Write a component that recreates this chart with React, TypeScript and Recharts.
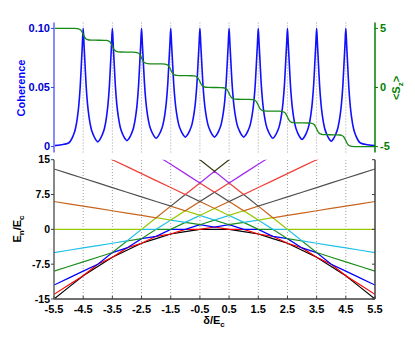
import React from "react";
import { LineChart, Line, XAxis, YAxis, ReferenceLine } from "recharts";

const W = 415;
const H = 337;
const FONT = "'Liberation Sans', Arial, Helvetica, sans-serif";

// x axis
const deltaTicks = [-5.5, -4.5, -3.5, -2.5, -1.5, -0.5, 0.5, 1.5, 2.5, 3.5, 4.5, 5.5];
const gridTicks = [-4.5, -3.5, -2.5, -1.5, -0.5, 0.5, 1.5, 2.5, 3.5, 4.5];

// ---- top panel: coherence (left axis) and <Sz> (right axis)
const peakCenters = [-4.5, -3.5, -2.5, -1.5, -0.5, 0.5, 1.5, 2.5, 3.5, 4.5];
const peakHeights = [0.1, 0.1, 0.1, 0.1, 0.1, 0.1, 0.1, 0.1, 0.1, 0.1];
// valley minima at delta = -5, -4, ..., 5
const valleyLevels = [0.003, 0.004, 0.005, 0.007, 0.008, 0.008, 0.008, 0.007, 0.006, 0.0045, 0.003];
const edgeCoherence = [0.0008, 0.0015]; // at |delta| = 5.5, 5.25
// peak profile (offset from centre, fraction above valley)
const peakOffsets = [0.03, 0.06, 0.1, 0.15, 0.2, 0.27, 0.35, 0.43];
const peakShape = [0.85, 0.7, 0.5, 0.33, 0.22, 0.12, 0.06, 0.02];

// <Sz> plateaus from left to right
const szPlateaus = [5, 4, 3, 2, 1, 0, -1, -2, -3, -4, -5];
const szStepOffsets = [0.04, 0.08, 0.13, 0.2, 0.3];
const szStepShape = [0.2, 0.35, 0.43, 0.48, 0.495];

// ---- bottom panel: energy levels E_n/E_c at delta/E_c = -5.5 : 0.5 : 5.5
const levelDelta = [-5.5, -5, -4.5, -4, -3.5, -3, -2.5, -2, -1.5, -1, -0.5, 0, 0.5, 1, 1.5, 2, 2.5, 3, 3.5, 4, 4.5, 5, 5.5];
const level0 = [-15, -12.5, -10, -8, -6, -4.5, -3, -2, -1, -0.5, 0, 0, 0, -0.5, -1, -2, -3, -4.5, -6, -8, -10, -12.5, -15];
const level1 = [-14, -12, -10, -7.5, -6, -4, -3, -1.5, -1, 0, 0, 0.5, 0, 0, -1, -1.5, -3, -4, -6, -7.5, -10, -12, -14];
const level2 = [-12, -10.5, -9, -7.5, -5, -4, -2, -1.5, 0, 0, 1, 0.5, 1, 0, 0, -1.5, -2, -4, -5, -7.5, -9, -10.5, -12];
const level3 = [-9, -8, -7, -6, -5, -2.5, -2, 0, 0, 1.5, 1, 2, 1, 1.5, 0, 0, -2, -2.5, -5, -6, -7, -8, -9];
const level4 = [-5, -4.5, -4, -3.5, -3, -2.5, 0, 0, 2, 1.5, 3, 2, 3, 1.5, 2, 0, 0, -2.5, -3, -3.5, -4, -4.5, -5];
const level5 = [0, 0, 0, 0, 0, 0, 0, 2.5, 2, 4, 3, 4.5, 3, 4, 2, 2.5, 0, 0, 0, 0, 0, 0, 0];
const level6 = [6, 5.5, 5, 4.5, 4, 3.5, 3, 2.5, 5, 4, 6, 4.5, 6, 4, 5, 2.5, 3, 3.5, 4, 4.5, 5, 5.5, 6];
const level7 = [13, 12, 11, 10, 9, 8, 7, 6, 5, 7.5, 6, 8, 6, 7.5, 5, 6, 7, 8, 9, 10, 11, 12, 13];
const level8 = [21, 19.5, 18, 16.5, 15, 13.5, 12, 10.5, 9, 7.5, 10, 8, 10, 7.5, 9, 10.5, 12, 13.5, 15, 16.5, 18, 19.5, 21];
const level9 = [30, 28, 26, 24, 22, 20, 18, 16, 14, 12, 10, 12.5, 10, 12, 14, 16, 18, 20, 22, 24, 26, 28, 30];
const level10 = [40, 37.5, 35, 32.5, 30, 27.5, 25, 22.5, 20, 17.5, 15, 12.5, 15, 17.5, 20, 22.5, 25, 27.5, 30, 32.5, 35, 37.5, 40];
const levels = [level0, level1, level2, level3, level4, level5, level6, level7, level8, level9, level10];
const levelColors = ["#000000", "#ff0000", "#0000ff", "#1a8c1a", "#1ec0e8", "#99c800", "#c8641e", "#505050", "#ee4038", "#a428f0", "#3a3a10"];
const energyTicks = [-15, -7.5, 0, 7.5, 15];

// ---- build tables
const cohData: { d: number; c: number }[] = [];
cohData.push({ d: -5.5, c: edgeCoherence[0] }, { d: -5.25, c: edgeCoherence[1] });
peakCenters.forEach((c, i) => {
  const vl = valleyLevels[i];
  const vr = valleyLevels[i + 1];
  const h = peakHeights[i];
  if (i === 0) cohData.push({ d: c - 0.5, c: vl });
  for (let j = peakOffsets.length - 1; j >= 0; j--) cohData.push({ d: c - peakOffsets[j], c: vl + (h - vl) * peakShape[j] });
  cohData.push({ d: c, c: h });
  for (let j = 0; j < peakOffsets.length; j++) cohData.push({ d: c + peakOffsets[j], c: vr + (h - vr) * peakShape[j] });
  cohData.push({ d: c + 0.5, c: vr });
});
cohData.push({ d: 5.25, c: edgeCoherence[1] }, { d: 5.5, c: edgeCoherence[0] });

const szData: { d: number; s: number }[] = [];
szData.push({ d: -5.5, s: szPlateaus[0] });
peakCenters.forEach((c, i) => {
  const up = szPlateaus[i];
  const lo = szPlateaus[i + 1];
  const mid = (up + lo) / 2;
  const step = up - lo;
  if (i === 0) szData.push({ d: c - 0.5, s: up });
  for (let j = szStepOffsets.length - 1; j >= 0; j--) szData.push({ d: c - szStepOffsets[j], s: mid + step * szStepShape[j] });
  szData.push({ d: c, s: mid });
  for (let j = 0; j < szStepOffsets.length; j++) szData.push({ d: c + szStepOffsets[j], s: mid - step * szStepShape[j] });
  szData.push({ d: c + 0.5, s: lo });
});
szData.push({ d: 5.5, s: szPlateaus[szPlateaus.length - 1] });

const levelData = levelDelta.map((d, i) => {
  const row: Record<string, number> = { d };
  levels.forEach((lv, k) => {
    row["l" + k] = lv[i];
  });
  return row;
});

const tickFont = { fontFamily: FONT, fontSize: 11, fontWeight: 700 };
const noTick = () => <g />;
const cohFmt = (v: number) => (v === 0 ? "0" : v.toFixed(2));

export default function App() {
  return (
    <div style={{ position: "absolute", left: 0, top: 0, width: W, height: H, background: "#fff" }}>
      {/* top panel */}
      <div style={{ position: "absolute", left: 0, top: 0 }}>
        <LineChart width={W} height={H} margin={{ top: 22.5, right: 0, bottom: 184.5, left: 0 }}>
          <XAxis
            xAxisId="b"
            dataKey="d"
            type="number"
            domain={[-5.5, 5.5]}
            ticks={deltaTicks}
            allowDataOverflow
            height={0}
            axisLine={{ stroke: "#808080", strokeWidth: 1.5 }}
            tickLine={{ stroke: "#606060" }}
            tickSize={-3}
            tick={noTick}
          />
          <XAxis
            xAxisId="t"
            orientation="top"
            dataKey="d"
            type="number"
            domain={[-5.5, 5.5]}
            ticks={gridTicks}
            allowDataOverflow
            height={0}
            axisLine={{ stroke: "#000", strokeWidth: 1.5 }}
            tickLine={{ stroke: "#808080", strokeWidth: 1.5 }}
            tickSize={-3}
            tick={noTick}
          />
          <YAxis
            yAxisId="coh"
            orientation="left"
            domain={[-0.005, 0.105]}
            ticks={[0, 0.05, 0.1]}
            allowDataOverflow
            width={54}
            tickFormatter={cohFmt}
            axisLine={{ stroke: "#8a8aff", strokeWidth: 2 }}
            tickLine={{ stroke: "#4040ff" }}
            tickSize={3}
            tickMargin={1}
            tick={{ ...tickFont, fill: "#0000d0" }}
          />
          <YAxis
            yAxisId="sz"
            orientation="right"
            domain={[-5.5, 5.5]}
            ticks={[-5, 0, 5]}
            allowDataOverflow
            width={40}
            axisLine={{ stroke: "#008000", strokeWidth: 1.5 }}
            tickLine={{ stroke: "#008000" }}
            tickSize={3}
            tickMargin={2}
            tick={{ ...tickFont, fill: "#008000" }}
          />
          {gridTicks.map((t) => (
            <ReferenceLine key={t} x={t} xAxisId="b" yAxisId="coh" stroke="#a0a0a0" strokeDasharray="1 2" />
          ))}
          <Line
            data={cohData}
            xAxisId="b"
            yAxisId="coh"
            dataKey="c"
            type="monotone"
            stroke="#1010ff"
            strokeWidth={1.6}
            dot={false}
            isAnimationActive={false}
          />
          <Line
            data={szData}
            xAxisId="b"
            yAxisId="sz"
            dataKey="s"
            type="monotone"
            stroke="#178a17"
            strokeWidth={1.3}
            dot={false}
            isAnimationActive={false}
          />
        </LineChart>
      </div>

      {/* bottom panel */}
      <div style={{ position: "absolute", left: 0, top: 0 }}>
        <LineChart width={W} height={H} data={levelData} margin={{ top: 159.7, right: 0, bottom: 8, left: 0 }}>
          <XAxis
            xAxisId="b"
            dataKey="d"
            type="number"
            domain={[-5.5, 5.5]}
            ticks={deltaTicks}
            allowDataOverflow
            height={30}
            axisLine={{ stroke: "#404040", strokeWidth: 1.5 }}
            tickLine={{ stroke: "#404040" }}
            tickSize={-3}
            tickMargin={9}
            tick={{ ...tickFont, fill: "#000" }}
          />
          <XAxis
            xAxisId="t"
            orientation="top"
            dataKey="d"
            type="number"
            domain={[-5.5, 5.5]}
            ticks={gridTicks}
            allowDataOverflow
            height={0}
            axisLine={{ stroke: "#303030", strokeWidth: 2 }}
            tickLine={false}
            tick={noTick}
          />
          <YAxis
            yAxisId="e"
            orientation="left"
            domain={[-15, 15]}
            ticks={energyTicks}
            allowDataOverflow
            width={54}
            axisLine={{ stroke: "#606060", strokeWidth: 1.5 }}
            tickLine={{ stroke: "#404040" }}
            tickSize={3}
            tickMargin={1}
            tick={{ ...tickFont, fontSize: 10.5, fill: "#000" }}
          />
          <YAxis
            yAxisId="e2"
            orientation="right"
            domain={[-15, 15]}
            ticks={energyTicks}
            allowDataOverflow
            width={40}
            axisLine={{ stroke: "#404040", strokeWidth: 1.5 }}
            tickLine={{ stroke: "#404040" }}
            tickSize={-3}
            tick={noTick}
          />
          {gridTicks.map((t) => (
            <ReferenceLine key={t} x={t} xAxisId="b" yAxisId="e" stroke="#a0a0a0" strokeDasharray="1 2" />
          ))}
          {levels.map((_, k) => (
            <Line
              key={k}
              xAxisId="b"
              yAxisId="e"
              dataKey={"l" + k}
              type="linear"
              stroke={levelColors[k]}
              strokeWidth={1.2}
              dot={false}
              isAnimationActive={false}
            />
          ))}
        </LineChart>
      </div>

      {/* axis titles */}
      <svg width={W} height={H} style={{ position: "absolute", left: 0, top: 0, pointerEvents: "none" }}>
        <text
          x={25}
          y={88}
          transform="rotate(-90 25 88)"
          textAnchor="middle"
          fill="#0000ff"
          style={{ fontFamily: FONT, fontSize: 11, fontWeight: 700 }}
        >
          Coherence
        </text>
        <text
          x={400}
          y={88}
          transform="rotate(-90 400 88)"
          textAnchor="middle"
          fill="#008000"
          style={{ fontFamily: FONT, fontSize: 11, fontWeight: 700 }}
        >
          {"<S"}
          <tspan dy={3} fontSize={8}>z</tspan>
          <tspan dy={-3}>{">"}</tspan>
        </text>
        <text
          x={21}
          y={229}
          transform="rotate(-90 21 229)"
          textAnchor="middle"
          fill="#000"
          style={{ fontFamily: FONT, fontSize: 11, fontWeight: 700 }}
        >
          E
          <tspan dy={3} fontSize={8}>n</tspan>
          <tspan dy={-3}>/E</tspan>
          <tspan dy={3} fontSize={8}>c</tspan>
        </text>
        <text
          x={214}
          y={324}
          textAnchor="middle"
          fill="#000"
          style={{ fontFamily: FONT, fontSize: 11, fontWeight: 700 }}
        >
          δ/E
          <tspan dy={3} fontSize={8}>c</tspan>
        </text>
      </svg>
    </div>
  );
}
